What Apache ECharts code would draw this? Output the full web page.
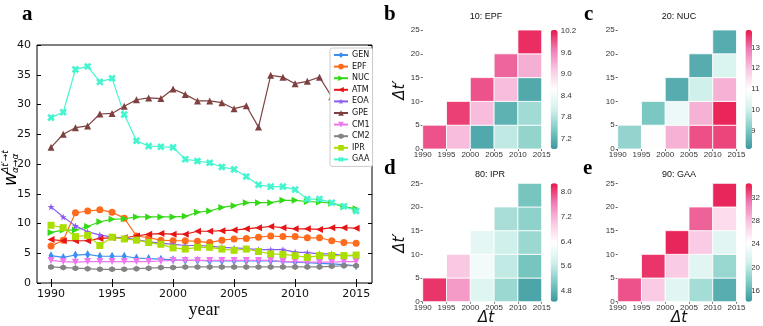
<!DOCTYPE html>
<html>
<head>
<meta charset="utf-8">
<script src="https://cdn.jsdelivr.net/npm/echarts@6/dist/echarts.min.js"></script>
<style>
  html, body { margin: 0; padding: 0; background: #fff; }
  #main { width: 763px; height: 326px; }
</style>
</head>
<body>
<div id="main"></div>
<script>
;(function () {
    "use strict";

    // panel a: yearly values
    const years = [1990, 1991, 1992, 1993, 1994, 1995, 1996, 1997, 1998, 1999, 2000, 2001, 2002,
                   2003, 2004, 2005, 2006, 2007, 2008, 2009, 2010, 2011, 2012, 2013, 2014, 2015];
    const GEN = [4.6, 4.3, 4.7, 4.8, 4.5, 4.5, 4.5, 4.2, 4.1, 4.0, 3.9, 3.8, 3.8, 3.7, 3.7, 3.7, 3.7, 3.7, 3.7, 3.6, 3.5, 3.4, 3.3, 3.2, 3.1, 2.9];
    const EPF = [6.2, 7.2, 11.8, 12.1, 12.3, 11.9, 10.9, 7.9, 7.6, 7.2, 7.1, 7.1, 7.0, 6.8, 7.2, 7.4, 7.5, 7.7, 7.9, 7.8, 7.8, 7.6, 7.6, 7.1, 6.8, 6.7];
    const NUC = [8.5, 8.9, 8.9, 9.5, 10.3, 10.7, 10.8, 11.1, 11.1, 11.1, 11.1, 11.2, 11.9, 12.1, 12.7, 13.0, 13.5, 13.5, 13.5, 13.9, 13.9, 13.7, 13.6, 13.4, 12.8, 12.5];
    const ATM = [7.3, 7.1, 7.1, 7.1, 7.5, 7.6, 7.6, 7.9, 8.2, 8.3, 8.2, 8.2, 8.7, 8.7, 8.8, 8.9, 9.1, 9.3, 9.5, 9.3, 9.1, 9.1, 9.0, 9.3, 9.3, 9.2];
    const EOA = [12.8, 11.1, 9.6, 8.6, 8.1, 7.7, 7.6, 7.3, 6.9, 6.7, 6.5, 6.3, 6.3, 6.2, 6.0, 5.9, 5.8, 5.6, 5.6, 5.6, 5.2, 5.1, 4.9, 4.9, 4.6, 4.6];
    const GPE = [22.8, 25.0, 26.1, 26.4, 28.4, 28.5, 29.7, 30.8, 31.1, 31.0, 32.6, 31.7, 30.6, 30.6, 30.3, 29.3, 29.8, 26.2, 34.9, 34.6, 33.5, 33.9, 34.6, 31.3, 31.0, 30.6];
    const CM1 = [3.8, 3.6, 3.5, 3.6, 3.6, 3.6, 3.6, 3.6, 3.6, 3.7, 3.8, 3.8, 3.8, 3.8, 3.8, 3.8, 3.8, 3.8, 3.8, 3.6, 3.6, 3.5, 3.5, 3.5, 3.6, 3.6];
    const CM2 = [2.7, 2.6, 2.5, 2.4, 2.3, 2.3, 2.3, 2.4, 2.5, 2.6, 2.6, 2.7, 2.7, 2.7, 2.7, 2.7, 2.7, 2.7, 2.7, 2.7, 2.7, 2.7, 2.7, 2.8, 2.9, 2.9];
    const IPR = [9.7, 9.3, 7.8, 8.0, 6.3, 7.7, 7.4, 7.2, 6.8, 6.5, 5.9, 5.7, 6.0, 6.0, 5.7, 5.5, 5.7, 5.3, 4.9, 4.8, 4.6, 4.3, 4.6, 4.6, 4.6, 4.7];
    const GAA = [27.8, 28.7, 35.9, 36.4, 33.8, 34.4, 28.3, 23.9, 23.0, 22.9, 22.8, 20.8, 20.5, 20.2, 19.5, 19.1, 17.9, 16.5, 16.2, 16.2, 15.7, 14.1, 14.1, 13.5, 12.9, 12.1];
    const yearTicks = [1990, 1995, 2000, 2005, 2010, 2015];

    // panels b-e: cells per 5-year bin, listed by lag 0, 5, 10 ...
    const binStarts = [1990, 1995, 2000, 2005, 2010];
    const lagStarts = [0, 5, 10, 15, 20];
    const epfCells = [[9.9], [9.2, 10.0], [7.1, 9.2, 9.9], [7.9, 7.2, 9.2, 9.8], [7.6, 7.7, 7.1, 9.3, 10.1]];
    const nucCells = [[9.3], [11.0, 9.0], [12.2, 10.6, 8.5], [13.3, 12.2, 10.0, 8.5], [13.4, 13.7, 12.2, 10.2, 8.5]];
    const iprCells = [[8.1], [7.4, 7.0], [5.9, 6.2, 6.0], [5.3, 5.6, 5.7, 5.4], [4.6, 5.0, 5.3, 5.2, 5.0]];
    const gaaCells = [[32.5], [27.5, 33.5], [22, 27.5, 34], [19, 22, 27.5, 32], [15.5, 18.5, 22, 26.5, 34]];
    const epfBarTicks = [7.2, 7.8, 8.4, 9.0, 9.6, 10.2];
    const nucBarTicks = [9, 10, 11, 12, 13];
    const iprBarTicks = [4.8, 5.6, 6.4, 7.2, 8.0];
    const gaaBarTicks = [16, 20, 24, 28, 32];

    const heatColors = ['#3a98a0', '#80cbc4', '#d2f1ec', '#ffffff', '#f9c8e2', '#f07db6', '#e8174c'];
    const sans = 'DejaVu Sans';
    const narrow = 'Liberation Sans';

    const STAR = 'path://M50,0 L61,35 L98,35 L68,57 L79,91 L50,70 L21,91 L32,57 L2,35 L39,35 Z';
    const HEX = 'path://M50,0 L93,25 L93,75 L50,100 L7,75 L7,25 Z';
    const PLUS = 'path://M33,0 L67,0 L67,33 L100,33 L100,67 L67,67 L67,100 L33,100 L33,67 L0,67 L0,33 L33,33 Z';

    function lineSeries(name, vals, color, symbol, rot, size) {
        return {
            name: name, type: 'line', xAxisIndex: 0, yAxisIndex: 0,
            data: years.map((y, i) => [y, vals[i]]),
            symbol: symbol, symbolRotate: rot, symbolSize: size,
            itemStyle: { color: color },
            lineStyle: { color: color, width: 1.2 },
            z: 3
        };
    }

    function cellsToData(cells) {
        const out = [];
        cells.forEach((col, i) => {
            col.forEach((v, j) => out.push([binStarts[i], lagStarts[j], v]));
        });
        return out;
    }

    function cellSeries(idx, cells) {
        return {
            type: 'custom', xAxisIndex: idx, yAxisIndex: idx,
            data: cellsToData(cells),
            renderItem: function (params, api) {
                const p0 = api.coord([api.value(0), api.value(1) + 5]);
                const p1 = api.coord([api.value(0) + 5, api.value(1)]);
                return {
                    type: 'rect',
                    shape: { x: p0[0], y: p0[1], width: p1[0] - p0[0], height: p1[1] - p0[1] },
                    style: { fill: api.visual('color'), stroke: '#fff', lineWidth: 0.8 }
                };
            }
        };
    }

    const heatGrids = [
        { left: 422.7, top: 30, width: 119, height: 119 },
        { left: 617.7, top: 30, width: 118.8, height: 119 },
        { left: 422.7, top: 183.3, width: 119, height: 118.4 },
        { left: 617.7, top: 183.3, width: 118.8, height: 118.4 }
    ];
    const barGrids = [
        { left: 550.7, top: 30, width: 7, height: 119 },
        { left: 745.5, top: 30, width: 6.5, height: 119 },
        { left: 550.7, top: 183.3, width: 7, height: 118.4 },
        { left: 745.5, top: 183.3, width: 6.5, height: 118.4 }
    ];
    const barRanges = [[6.92, 10.22], [8.12, 13.83], [4.44, 8.29], [14.1, 34.5]];
    const barTicks = [epfBarTicks, nucBarTicks, iprBarTicks, gaaBarTicks];
    const barDigits = [1, 0, 1, 0];

    const grids = [{ left: 37, top: 45, width: 335, height: 238, show: true, borderColor: '#000', borderWidth: 1 }]
        .concat(heatGrids).concat(barGrids);

    const tickFont = { fontFamily: narrow, fontSize: 8, color: '#333' };
    const plain = v => String(Math.round(v));

    const xAxes = [
        {
            gridIndex: 0, type: 'value', min: 1988.85, max: 2016.3, position: 'bottom',
            axisLine: { show: false },
            axisTick: { inside: true, length: 4, customValues: yearTicks, lineStyle: { color: '#000' } },
            axisLabel: { customValues: yearTicks, formatter: plain, fontFamily: sans, fontSize: 11, color: '#111', margin: 6 },
            splitLine: { show: false }
        },
        {
            gridIndex: 0, type: 'value', min: 1988.85, max: 2016.3, position: 'top',
            axisLine: { show: false },
            axisTick: { inside: true, length: 4, customValues: yearTicks, lineStyle: { color: '#000' } },
            axisLabel: { show: false }, splitLine: { show: false }
        }
    ];
    const yAxes = [
        {
            gridIndex: 0, type: 'value', min: 0, max: 40, interval: 5, position: 'left',
            axisLine: { show: false },
            axisTick: { inside: true, length: 4, lineStyle: { color: '#000' } },
            axisLabel: { fontFamily: sans, fontSize: 11, color: '#111', margin: 6 },
            splitLine: { show: false }
        },
        {
            gridIndex: 0, type: 'value', min: 0, max: 40, interval: 5, position: 'right',
            axisLine: { show: false },
            axisTick: { inside: true, length: 4, lineStyle: { color: '#000' } },
            axisLabel: { show: false }, splitLine: { show: false }
        }
    ];
    // heatmap axes: xAxis/yAxis index 2..5
    for (let k = 0; k < 4; k++) {
        xAxes.push({
            gridIndex: 1 + k, type: 'value', min: 1990, max: 2015, interval: 5,
            axisLine: { show: false },
            axisTick: { length: 2, lineStyle: { color: '#666' } },
            axisLabel: Object.assign({ margin: 2, formatter: plain, hideOverlap: false }, tickFont),
            splitLine: { show: false }
        });
        yAxes.push({
            gridIndex: 1 + k, type: 'value', min: 0, max: 25, interval: 5,
            axisLine: { show: false },
            axisTick: { length: 2, lineStyle: { color: '#666' } },
            axisLabel: Object.assign({ margin: 3 }, tickFont),
            splitLine: { show: false }
        });
    }
    // colorbar label axes: index 6..9
    for (let k = 0; k < 4; k++) {
        const d = barDigits[k];
        xAxes.push({ gridIndex: 5 + k, type: 'value', show: false });
        yAxes.push({
            gridIndex: 5 + k, type: 'value', position: 'right',
            min: barRanges[k][0], max: barRanges[k][1],
            axisLine: { show: false }, axisTick: { show: false }, splitLine: { show: false },
            axisLabel: Object.assign({
                margin: 3,
                customValues: barTicks[k],
                formatter: v => Number(v).toFixed(d)
            }, tickFont)
        });
    }

    const series = [
        lineSeries('GEN', GEN, '#3b8ff0', 'diamond', 0, [5, 9]),
        lineSeries('EPF', EPF, '#ff6b1c', 'circle', 0, 7),
        lineSeries('NUC', NUC, '#33d914', 'triangle', -90, 7),
        lineSeries('ATM', ATM, '#e51515', 'triangle', 90, 7),
        lineSeries('EOA', EOA, '#8a5cf0', STAR, 0, 7),
        lineSeries('GPE', GPE, '#7f4040', 'triangle', 0, 7),
        lineSeries('CM1', CM1, '#ee77ee', 'triangle', 180, 7),
        lineSeries('CM2', CM2, '#848484', HEX, 0, 6),
        lineSeries('IPR', IPR, '#aadd00', 'rect', 0, 7),
        lineSeries('GAA', GAA, '#45f5cf', PLUS, 45, 8)
    ];
    const heatStart = series.length;
    [epfCells, nucCells, iprCells, gaaCells].forEach((c, k) => {
        series.push(cellSeries(2 + k, c));
    });

    const visualMaps = barGrids.map((g, k) => ({
        type: 'continuous', seriesIndex: heatStart + k, dimension: 2,
        min: barRanges[k][0], max: barRanges[k][1],
        left: g.left, top: g.top, itemWidth: g.width, itemHeight: g.height,
        padding: 0, calculable: false, text: null,
        inRange: { color: heatColors },
        textStyle: { fontSize: 0 }
    }));

    const serif = 'Liberation Serif';
    const center = { align: 'center', verticalAlign: 'middle' };
    function label(x, y, text, font, rot) {
        return { type: 'text', x: x, y: y, rotation: rot || 0,
                 style: Object.assign({ text: text, font: font, fill: '#111' }, center) };
    }
    const graphics = [
        { type: 'text', left: 22, top: 4, style: { text: 'a', font: 'bold 21px ' + serif, fill: '#000' } },
        { type: 'text', left: 384, top: 4, style: { text: 'b', font: 'bold 21px ' + serif, fill: '#000' } },
        { type: 'text', left: 584, top: 4, style: { text: 'c', font: 'bold 21px ' + serif, fill: '#000' } },
        { type: 'text', left: 384, top: 158, style: { text: 'd', font: 'bold 21px ' + serif, fill: '#000' } },
        { type: 'text', left: 583, top: 158, style: { text: 'e', font: 'bold 21px ' + serif, fill: '#000' } },
        label(204, 310, 'year', '18px ' + serif),
        label(486, 17, '10: EPF', '9px ' + narrow),
        label(679, 17, '20: NUC', '9px ' + narrow),
        label(490, 175, '80: IPR', '9px ' + narrow),
        label(679, 175, '90: GAA', '9px ' + narrow),
        label(486, 318, 'Δt', 'italic 15px ' + sans),
        label(679, 318, 'Δt', 'italic 15px ' + sans),
        label(400, 90, 'Δt′', 'italic 15px ' + sans, Math.PI / 2),
        label(400, 243, 'Δt′', 'italic 15px ' + sans, Math.PI / 2),
        {
            type: 'group', x: 12, y: 186, rotation: Math.PI / 2,
            children: [
                { type: 'text', x: 0, y: 0, style: { text: 'w', font: 'italic 17px ' + sans, fill: '#000', verticalAlign: 'middle' } },
                { type: 'text', x: 13, y: -6, style: { text: 'Δt′→t', font: 'italic 9px ' + sans, fill: '#000', verticalAlign: 'middle' } },
                { type: 'text', x: 13, y: 4, style: { text: 'α→α', font: 'italic 9px ' + sans, fill: '#000', verticalAlign: 'middle' } }
            ]
        }
    ];

    const chart = echarts.init(document.getElementById('main'));
    chart.setOption({
        animation: false,
        backgroundColor: '#fff',
        grid: grids,
        xAxis: xAxes,
        yAxis: yAxes,
        visualMap: visualMaps,
        legend: {
            orient: 'vertical', left: 330, top: 48,
            data: ['GEN', 'EPF', 'NUC', 'ATM', 'EOA', 'GPE', 'CM1', 'CM2', 'IPR', 'GAA'],
            backgroundColor: '#fff', borderColor: '#ccc', borderWidth: 1, borderRadius: 2,
            padding: [3, 3, 3, 3], itemWidth: 14, itemHeight: 7, itemGap: 3.6,
            textStyle: { fontFamily: sans, fontSize: 8, color: '#111', padding: [0, 0, 0, -1] },
            z: 10
        },
        graphic: graphics,
        series: series
    });
})();
</script>
</body>
</html>
